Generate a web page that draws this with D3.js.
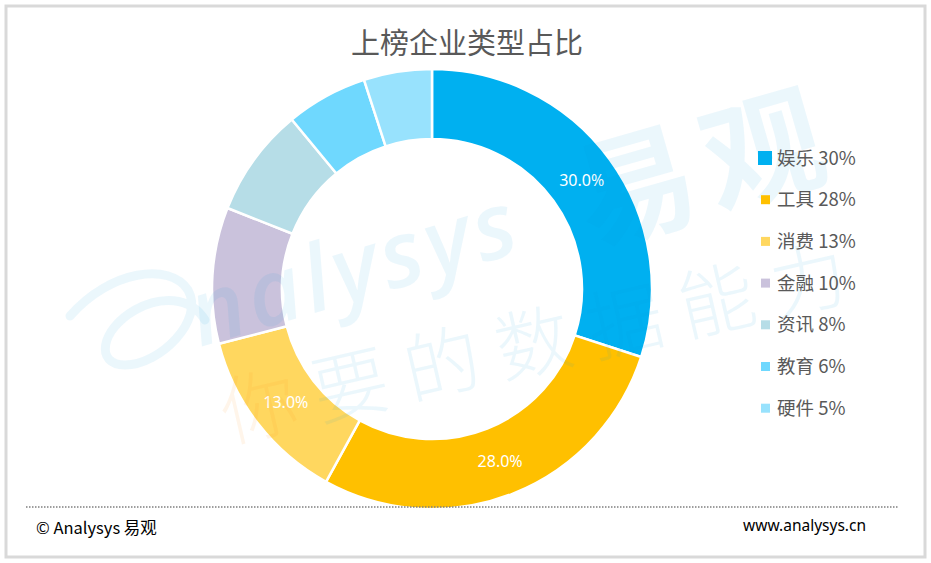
<!DOCTYPE html>
<html>
<head>
<meta charset="utf-8">
<script src="https://cdn.jsdelivr.net/npm/d3@7"></script>
<style>
  body { margin: 0; background: #fff; }
  svg { display: block; }
</style>
</head>
<body>
<div id="chart"></div>
<script>
// chart data
var categories = ["娱乐", "工具", "消费", "金融", "资讯", "教育", "硬件"];
var shares = [30, 28, 13, 10, 8, 6, 5];
var colors = ["#00B0F0", "#FFC000", "#FFD75F", "#CAC2DC", "#B6DDE7", "#6FD8FE", "#98E2FD"];
var labelled = ["娱乐", "工具", "消费"];   // only these get a % label on the ring

var width = 931, height = 563;
var cx = 432, cy = 289, outerR = 220, innerR = 150;

var svg = d3.select("#chart").append("svg")
    .attr("width", width)
    .attr("height", height);

// frame
svg.append("rect")
    .attr("x", 6).attr("y", 6)
    .attr("width", 919).attr("height", 551)
    .attr("fill", "#fff")
    .attr("stroke", "#d9d9d9")
    .attr("stroke-width", 3);

// title
svg.append("text")
    .attr("x", 467).attr("y", 54)
    .attr("text-anchor", "middle")
    .attr("fill", "#595959")
    .style("font-family", "'Noto Sans CJK SC', sans-serif")
    .style("font-size", "29px")
    .text("上榜企业类型占比");

// donut
var pie = d3.pie().sort(null).value(function(d) { return d; });
var arc = d3.arc().innerRadius(innerR).outerRadius(outerR);
var arcs = pie(shares);

var g = svg.append("g").attr("transform", "translate(" + cx + "," + cy + ")");

g.selectAll("path.slice")
    .data(arcs)
  .enter().append("path")
    .attr("class", "slice")
    .attr("d", arc)
    .attr("fill", function(d, i) { return colors[i]; })
    .attr("stroke", "#fff")
    .attr("stroke-width", 2.5);

g.selectAll("text.pct")
    .data(arcs.filter(function(d, i) { return labelled.indexOf(categories[i]) >= 0; }))
  .enter().append("text")
    .attr("class", "pct")
    .attr("transform", function(d) { return "translate(" + arc.centroid(d) + ")"; })
    .attr("text-anchor", "middle")
    .attr("dy", "0.35em")
    .attr("fill", "#fff")
    .style("font-family", "'Noto Sans', sans-serif")
    .style("font-size", "16px")
    .text(function(d) { return d.value.toFixed(1) + "%"; });

// watermark (faint, drawn over the chart like the original)
var wm = svg.append("g").style("pointer-events", "none");
wm.append("path")
    .attr("d", "M70,316 C110,270 170,262 188,290 C205,320 160,365 125,365 C95,365 100,330 135,310 C160,296 190,296 205,320")
    .attr("fill", "none")
    .attr("stroke", "#0096d6")
    .attr("stroke-opacity", 0.08)
    .attr("stroke-width", 9)
    .attr("stroke-linecap", "round");
wm.append("text")
    .attr("transform", "translate(200,347) rotate(-16.5)")
    .attr("fill", "#0096d6").attr("fill-opacity", 0.08)
    .style("font-family", "'Open Sans', sans-serif")
    .style("font-size", "92px")
    .style("font-style", "italic")
    .style("font-weight", "600")
    .style("letter-spacing", "5px")
    .text("nalysys");
wm.append("text")
    .attr("transform", "translate(590,245) rotate(-16)")
    .attr("fill", "#0096d6").attr("fill-opacity", 0.08)
    .style("font-family", "'Noto Sans CJK SC', sans-serif")
    .style("font-size", "120px")
    .style("font-weight", "700")
    .style("letter-spacing", "12px")
    .text("易观");
var slogan = wm.append("text")
    .attr("transform", "translate(228,442) rotate(-13)")
    .style("font-family", "'Noto Sans CJK SC', sans-serif")
    .style("font-size", "76px")
    .style("font-weight", "300")
    .style("letter-spacing", "18px");
slogan.append("tspan").attr("fill", "#ff8c1a").attr("fill-opacity", 0.09).text("你");
slogan.append("tspan").attr("fill", "#0096d6").attr("fill-opacity", 0.08).text("要的数据能力");

// legend
var legend = svg.append("g").attr("transform", "translate(758,158)");
var rows = legend.selectAll("g")
    .data(categories)
  .enter().append("g")
    .attr("transform", function(d, i) { return "translate(0," + (i * 41.7) + ")"; });

rows.append("rect")
    .attr("x", function(d, i) { return i === 0 ? 0 : 3; })
    .attr("y", function(d, i) { return i === 0 ? -7 : -4.5; })
    .attr("width", function(d, i) { return i === 0 ? 14 : 9; })
    .attr("height", function(d, i) { return i === 0 ? 14 : 9; })
    .attr("fill", function(d, i) { return colors[i]; });

rows.append("text")
    .attr("x", 19)
    .attr("dy", "0.36em")
    .attr("fill", "#595959")
    .style("font-family", "'Noto Sans CJK SC', sans-serif")
    .style("font-size", "18.5px")
    .text(function(d, i) { return d + " " + shares[i] + "%"; });

// footer
svg.append("line")
    .attr("x1", 26).attr("x2", 898)
    .attr("y1", 507).attr("y2", 507)
    .attr("stroke", "#7f7f7f")
    .attr("stroke-width", 1.5)
    .attr("stroke-dasharray", "1.5,1.5");

svg.append("text")
    .attr("x", 36).attr("y", 534)
    .attr("fill", "#000")
    .style("font-family", "'Noto Sans CJK SC', sans-serif")
    .style("font-size", "16.5px")
    .text("© Analysys 易观");

svg.append("text")
    .attr("x", 866).attr("y", 531)
    .attr("text-anchor", "end")
    .attr("fill", "#000")
    .style("font-family", "'Noto Sans', sans-serif")
    .style("font-size", "15.5px")
    .text("www.analysys.cn");
</script>
</body>
</html>
